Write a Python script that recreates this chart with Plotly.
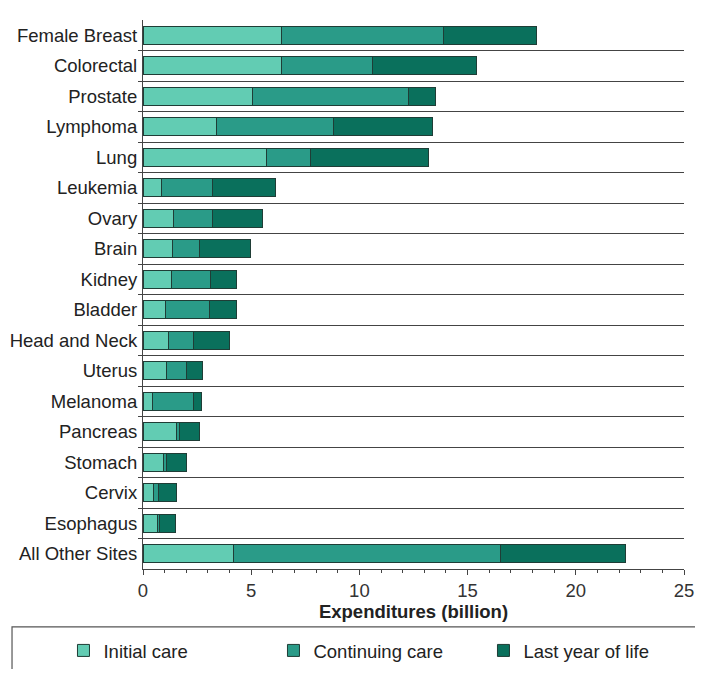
import plotly.graph_objects as go

# Cancer care expenditures by site and phase of care (billion)
sites = ['Female Breast', 'Colorectal', 'Prostate', 'Lymphoma', 'Lung', 'Leukemia',
         'Ovary', 'Brain', 'Kidney', 'Bladder', 'Head and Neck', 'Uterus',
         'Melanoma', 'Pancreas', 'Stomach', 'Cervix', 'Esophagus', 'All Other Sites']
initial_care = [6.4, 6.4, 5.05, 3.4, 5.7, 0.85, 1.4, 1.35, 1.3, 1.05, 1.2, 1.1,
                0.45, 1.55, 0.95, 0.5, 0.65, 4.2]
continuing_care = [7.5, 4.2, 7.2, 5.4, 2.05, 2.35, 1.8, 1.25, 1.8, 2.0, 1.15, 0.9,
                   1.9, 0.15, 0.15, 0.2, 0.1, 12.3]
last_year = [4.3, 4.8, 1.25, 4.6, 5.45, 2.9, 2.3, 2.35, 1.2, 1.25, 1.65, 0.75,
             0.35, 0.9, 0.9, 0.85, 0.75, 5.8]

pos = list(range(len(sites)))
font = 'Liberation Sans, Arial, sans-serif'

fig = go.Figure()

series = [
    ('Initial care', initial_care, '#62ccb3'),
    ('Continuing care', continuing_care, '#2a9b88'),
    ('Last year of life', last_year, '#0a705c'),
]
for name, vals, color in series:
    fig.add_trace(go.Bar(
        y=pos, x=vals, name=name, orientation='h',
        marker=dict(color=color, line=dict(color='#1f3d36', width=1)),
    ))

# box around the legend
fig.add_shape(type='rect', xref='paper', yref='paper',
              x0=-0.2421, x1=1.06, y0=-0.1056, y1=-0.22,
              line=dict(color='#555555', width=1.2), fillcolor='rgba(0,0,0,0)')

# page body has an 8px margin, so the figure is a little smaller than the window
fig.update_layout(
    width=687, height=661,
    barmode='stack', bargap=0.4,
    plot_bgcolor='white', paper_bgcolor='white',
    margin=dict(l=135, r=11, t=12, b=100, autoexpand=False),
    font=dict(family=font, size=18.5, color='#222222'),
    legend=dict(orientation='h', x=-0.147, xanchor='left', y=-0.1492, yanchor='middle',
                entrywidth=165, font=dict(size=18.5, color='#222222'),
                bgcolor='rgba(0,0,0,0)', traceorder='normal'),
)

fig.update_xaxes(
    range=[0, 25], dtick=5, showgrid=False, zeroline=False, automargin=False,
    showline=True, linecolor='#444444', linewidth=1.2,
    ticks='outside', ticklen=5, tickcolor='#444444',
    minor=dict(dtick=1, ticks='outside', ticklen=3, tickcolor='#444444'),
    tickfont=dict(size=18.5, color='#333333'),
    ticklabeloverflow='allow',
    title=dict(text='<b>Expenditures (billion)</b>', font=dict(size=18.5, color='#222222'), standoff=4),
)

fig.update_yaxes(
    range=[len(sites) - 0.5, -0.5], automargin=False,
    tickmode='array', tickvals=pos, ticktext=sites,
    ticks='', showgrid=False, zeroline=False,
    showline=True, linecolor='#444444', linewidth=1.2,
    minor=dict(tickmode='array', tickvals=[p + 0.5 for p in pos[:-1]],
               ticks='outside', ticklen=4, tickcolor='#444444',
               showgrid=True, gridcolor='#444444', gridwidth=1.2),
    tickfont=dict(size=18.5, color='#222222'),
    ticklabelstandoff=1,
)

fig.write_html('out.html')
